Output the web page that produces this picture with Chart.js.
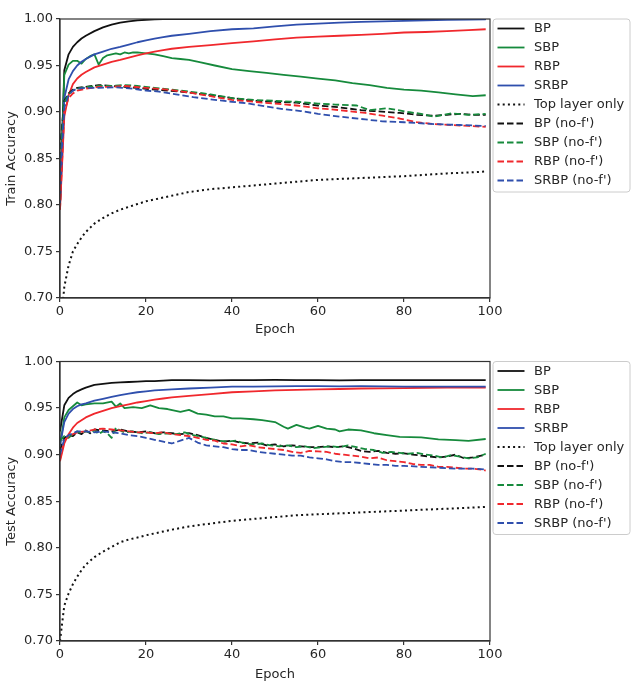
<!DOCTYPE html>
<html><head><meta charset="utf-8">
<script src="https://cdn.jsdelivr.net/npm/chart.js@4"></script>
<style>
html,body{margin:0;padding:0;background:#fff;}
#wrap{position:relative;width:636px;height:685px;}
canvas{position:absolute;left:0;}
</style></head><body>
<div id="wrap">
<canvas id="c1" width="636" height="340" style="top:0"></canvas>
<canvas id="c2" width="636" height="345" style="top:340px"></canvas>
</div>
<script>
// ---------- DATA ----------
const seriesLabels = ["BP","SBP","RBP","SRBP","Top layer only","BP (no-f')","SBP (no-f')","RBP (no-f')","SRBP (no-f')"];
const xTicks = [0,20,40,60,80,100];
const yTicks = [0.70,0.75,0.80,0.85,0.90,0.95,1.00];

// shared epochs for the smooth curves
const epA = [0,1,2,3,4,5,6,8,10,12,14,16,18,20,22,24,26,30,35,40,45,50,55,60,65,70,75,80,85,90,95,99];

// ----- Train -----
const trainBP   = [0.80,0.945,0.962,0.970,0.975,0.979,0.982,0.987,0.991,0.994,0.996,0.9975,0.9985,0.9992,0.9996,0.9998,1.0,1.0,1.0,1.0,1.0,1.0,1.0,1.0,1.0,1.0,1.0,1.0,1.0,1.0,1.0,1.0];
const trainRBP  = [0.795,0.895,0.918,0.930,0.936,0.940,0.943,0.948,0.951,0.954,0.956,0.9585,0.961,0.963,0.965,0.9665,0.968,0.970,0.972,0.974,0.976,0.978,0.980,0.981,0.982,0.983,0.984,0.9855,0.986,0.987,0.988,0.989];
const trainSRBP = [0.80,0.915,0.935,0.944,0.950,0.954,0.957,0.962,0.965,0.968,0.970,0.9725,0.975,0.977,0.979,0.9805,0.982,0.984,0.987,0.989,0.990,0.992,0.994,0.995,0.996,0.997,0.9975,0.998,0.9985,0.999,0.9993,0.9995];
const trainTop  = [0.66,0.712,0.735,0.750,0.758,0.765,0.771,0.780,0.786,0.791,0.795,0.798,0.801,0.804,0.806,0.808,0.810,0.814,0.817,0.819,0.821,0.823,0.825,0.827,0.828,0.829,0.830,0.831,0.8325,0.834,0.835,0.836];

const trainSBP_x = [0,1,2,3,4,5,6,7,8,9,10,11,12,13,14,15,16,17,18,20,22,24,26,28,30,33,36,40,44,48,52,56,60,64,68,72,76,80,84,88,92,96,99];
const trainSBP   = [0.80,0.94,0.951,0.955,0.955,0.952,0.957,0.960,0.962,0.951,0.958,0.961,0.962,0.963,0.962,0.964,0.963,0.964,0.964,0.963,0.962,0.960,0.958,0.957,0.956,0.953,0.950,0.946,0.944,0.942,0.940,0.938,0.936,0.934,0.931,0.929,0.926,0.924,0.923,0.921,0.919,0.917,0.918];

const trainBPnf_x = [0,1,2,3,4,6,9,12,15,20,25,30,35,40,45,50,55,60,65,70,73,76,79,83,87,90,93,96,99];
const trainBPnf   = [0.86,0.912,0.920,0.924,0.926,0.927,0.929,0.928,0.927,0.925,0.923,0.921,0.918,0.915,0.912,0.911,0.910,0.907,0.905,0.902,0.901,0.900,0.899,0.897,0.896,0.897,0.898,0.897,0.897];
const trainSBPnf_x = [0,1,2,3,4,6,9,12,15,18,22,26,30,35,40,45,50,55,60,64,69,72,76,81,84,87,91,95,99];
const trainSBPnf   = [0.85,0.91,0.919,0.923,0.925,0.927,0.928,0.928,0.929,0.928,0.926,0.924,0.922,0.919,0.915,0.913,0.912,0.911,0.909,0.908,0.907,0.902,0.904,0.900,0.898,0.895,0.8985,0.897,0.898];
const trainRBPnf_x = [0,1,2,3,4,6,9,12,15,20,25,30,35,40,45,50,55,60,65,71,75,79,83,87,91,95,99];
const trainRBPnf   = [0.795,0.900,0.915,0.920,0.923,0.925,0.927,0.927,0.928,0.926,0.924,0.921,0.917,0.913,0.911,0.909,0.907,0.904,0.902,0.899,0.896,0.893,0.889,0.887,0.886,0.885,0.884];
const trainSRBPnf_x = [0,1,2,3,4,6,9,13,17,20,23,27,31,36,40,44,48,52,56,60,65,71,75,80,87,93,99];
const trainSRBPnf   = [0.83,0.905,0.918,0.923,0.925,0.926,0.926,0.9265,0.925,0.923,0.922,0.919,0.916,0.913,0.911,0.909,0.906,0.903,0.901,0.898,0.895,0.892,0.890,0.889,0.887,0.886,0.885];

// ----- Test -----
const testBP   = [0.925,0.953,0.961,0.965,0.968,0.970,0.972,0.975,0.976,0.977,0.9775,0.978,0.9785,0.979,0.979,0.9795,0.980,0.980,0.9798,0.980,0.980,0.9802,0.980,0.980,0.9798,0.980,0.980,0.980,0.980,0.980,0.980,0.980];
const testRBP  = [0.893,0.912,0.922,0.929,0.934,0.937,0.940,0.944,0.947,0.950,0.952,0.954,0.956,0.9575,0.959,0.9603,0.9615,0.963,0.965,0.967,0.968,0.969,0.9695,0.970,0.9705,0.971,0.9712,0.9715,0.9718,0.972,0.972,0.972];
const testSRBP = [0.91,0.935,0.944,0.949,0.952,0.954,0.955,0.958,0.960,0.962,0.964,0.9655,0.967,0.968,0.969,0.9695,0.970,0.971,0.972,0.973,0.973,0.9733,0.9735,0.9735,0.9733,0.9735,0.9732,0.973,0.973,0.973,0.973,0.973];
const testTop  = [0.70,0.738,0.751,0.761,0.769,0.776,0.782,0.790,0.796,0.801,0.806,0.809,0.811,0.8135,0.8155,0.8175,0.8195,0.823,0.826,0.829,0.831,0.833,0.835,0.836,0.837,0.838,0.839,0.840,0.841,0.842,0.843,0.844];

const testSBP_x = [0,1,2,3,4,5,6,8,10,12,13,14,15,17,19,21,23,25,28,30,32,34,36,38,40,42,45,47,50,52,53,55,57,58,60,62,64,65,67,70,73,76,79,84,88,92,95,99];
const testSBP   = [0.91,0.940,0.948,0.952,0.956,0.953,0.954,0.955,0.955,0.957,0.9515,0.955,0.950,0.951,0.950,0.953,0.950,0.949,0.946,0.948,0.944,0.943,0.941,0.941,0.939,0.939,0.938,0.937,0.935,0.930,0.928,0.932,0.929,0.928,0.931,0.928,0.927,0.925,0.927,0.926,0.923,0.921,0.919,0.9185,0.9165,0.9157,0.9147,0.9168];

const testBPnf_x = [0,1,2,3,4,5,6,7,8,10,12,14,16,18,20,22,24,26,28,30,32,34,36,38,40,42,44,46,48,50,52,54,56,58,60,62,64,66,68,70,72,74,76,78,80,82,84,86,88,90,92,94,96,98,99];
const testBPnf   = [0.905,0.918,0.921,0.920,0.924,0.922,0.926,0.923,0.927,0.926,0.925,0.927,0.925,0.924,0.925,0.923,0.924,0.923,0.922,0.923,0.921,0.918,0.916,0.914,0.915,0.913,0.912,0.913,0.910,0.911,0.909,0.910,0.909,0.908,0.908,0.909,0.908,0.909,0.907,0.904,0.903,0.904,0.902,0.901,0.9015,0.900,0.899,0.898,0.897,0.898,0.900,0.896,0.897,0.899,0.900];
const testSBPnf_x = [0,1,2,3,4,5,6,7,8,9,10,11,12,13,14,15,17,19,21,23,25,27,29,31,33,35,37,39,41,43,45,47,49,51,53,55,57,59,61,63,65,67,69,71,73,75,77,79,81,83,85,87,89,91,93,95,97,99];
const testSBPnf   = [0.915,0.920,0.918,0.922,0.925,0.923,0.925,0.924,0.926,0.922,0.925,0.923,0.918,0.929,0.926,0.924,0.925,0.923,0.924,0.922,0.923,0.922,0.924,0.921,0.919,0.917,0.915,0.914,0.915,0.912,0.911,0.912,0.910,0.909,0.910,0.908,0.909,0.907,0.908,0.909,0.908,0.910,0.908,0.906,0.905,0.902,0.903,0.902,0.901,0.902,0.900,0.899,0.897,0.8995,0.898,0.896,0.897,0.901];
const testRBPnf_x = [0,1,2,3,4,6,8,10,12,14,16,18,20,22,24,26,28,30,32,34,36,38,40,42,44,46,48,50,52,54,56,58,60,62,64,66,68,70,72,74,76,78,80,82,84,86,88,90,92,94,96,98,99];
const testRBPnf   = [0.895,0.915,0.920,0.922,0.924,0.925,0.927,0.928,0.927,0.926,0.925,0.924,0.924,0.923,0.924,0.922,0.921,0.920,0.918,0.916,0.915,0.912,0.911,0.909,0.910,0.908,0.907,0.906,0.905,0.903,0.902,0.904,0.9035,0.903,0.901,0.900,0.899,0.898,0.896,0.897,0.894,0.893,0.892,0.890,0.889,0.889,0.887,0.887,0.886,0.885,0.885,0.884,0.883];
const testSRBPnf_x = [0,1,2,3,4,6,8,10,12,14,16,18,20,22,24,26,28,30,32,34,36,38,40,42,44,46,48,50,52,54,56,58,60,62,64,66,68,70,72,74,76,78,80,84,88,92,96,99];
const testSRBPnf   = [0.90,0.917,0.921,0.923,0.925,0.925,0.924,0.925,0.924,0.923,0.921,0.920,0.918,0.916,0.914,0.912,0.915,0.918,0.913,0.910,0.909,0.908,0.906,0.905,0.905,0.903,0.902,0.901,0.900,0.899,0.899,0.897,0.896,0.895,0.893,0.892,0.892,0.891,0.890,0.889,0.889,0.888,0.888,0.887,0.886,0.885,0.885,0.884];

// ---------- STYLES ----------
const colors = ['#111111','#168a3c','#f0282d','#2f4fad','#111111','#111111','#168a3c','#f0282d','#2f4fad'];
const dashes = [[],[],[],[],[2,3.2],[6.5,3],[6.5,3],[6.5,3],[6.5,3]];
const FONT = {family:'DejaVu Sans', size:13};
const TXT = '#262626';

function pts(xs, ys){ return xs.map((x,i)=>({x:x, y:ys[i]})); }

function buildDatasets(seriesXY){
  return seriesXY.map((d,i)=>({
    label: seriesLabels[i],
    data: pts(d[0], d[1]),
    borderColor: colors[i],
    borderDash: dashes[i],
    borderWidth: i===4 ? 2 : 1.8,
    borderCapStyle: 'butt',
    borderJoinStyle: 'round',
    pointRadius: 0,
    tension: 0,
    fill: false,
    order: seriesXY.length - i
  }));
}

const framePlugin = {
  id:'frame',
  afterDraw(chart){
    const {ctx, chartArea:a} = chart;
    ctx.save();
    ctx.strokeStyle = '#333333'; ctx.lineWidth = 1.2;
    ctx.strokeRect(a.left, a.top, a.right-a.left, a.bottom-a.top);
    // legend
    const bx = a.right + 2.5, by = a.top - 0.5, bw = 137, bh = 173;
    ctx.fillStyle = 'rgba(255,255,255,0.85)';
    ctx.strokeStyle = '#cccccc'; ctx.lineWidth = 1;
    ctx.beginPath();
    if (ctx.roundRect) ctx.roundRect(bx+0.5, by+0.5, bw, bh, 3); else ctx.rect(bx+0.5, by+0.5, bw, bh);
    ctx.fill(); ctx.stroke();
    ctx.font = '13px "DejaVu Sans"';
    ctx.textBaseline = 'middle';
    chart.data.datasets.forEach((ds,i)=>{
      const y = by + 10 + 19*i;
      ctx.beginPath();
      ctx.setLineDash(ds.borderDash);
      ctx.strokeStyle = ds.borderColor;
      ctx.lineWidth = ds.borderWidth;
      ctx.lineCap = 'butt';
      ctx.moveTo(bx+5, y); ctx.lineTo(bx+32, y);
      ctx.stroke();
      ctx.setLineDash([]);
      ctx.fillStyle = TXT;
      ctx.fillText(ds.label, bx+41.5, y+0.5);
    });
    ctx.restore();
  }
};

function makeChart(id, yTitle, seriesXY, padTop, xAxisH){
  return new Chart(document.getElementById(id), {
    type:'line',
    data:{ datasets: buildDatasets(seriesXY) },
    options:{
      responsive:false, animation:false, events:[],
      layout:{ padding:{ top:padTop, right:146, left:0, bottom:0 } },
      plugins:{ legend:{display:false}, tooltip:{enabled:false} },
      scales:{
        x:{
          type:'linear', min:xTicks[0], max:xTicks[xTicks.length-1],
          afterBuildTicks: s => { s.ticks = xTicks.map(v=>({value:v})); },
          ticks:{ color:TXT, font:FONT, padding:2, maxRotation:0, callback:v=>String(v) },
          grid:{ drawOnChartArea:false, drawTicks:true, tickLength:4, color:'#333333', lineWidth:1.2 },
          border:{ display:true, color:'#333333', width:1.2 },
          title:{ display:true, text:'Epoch', color:TXT, font:FONT, padding:{top:0,bottom:3} },
          afterFit: s => { s.height = xAxisH; }
        },
        y:{
          type:'linear', min:yTicks[0], max:yTicks[yTicks.length-1],
          afterBuildTicks: s => { s.ticks = yTicks.map(v=>({value:v})); },
          ticks:{ color:TXT, font:FONT, padding:3, callback:v=>Number(v).toFixed(2) },
          grid:{ drawOnChartArea:false, drawTicks:true, tickLength:4, color:'#333333', lineWidth:1.2 },
          border:{ display:true, color:'#333333', width:1.2 },
          title:{ display:true, text:yTitle, color:TXT, font:FONT, padding:{top:4,bottom:0} },
          afterFit: s => { s.width = 60; }
        }
      }
    },
    plugins:[framePlugin]
  });
}

makeChart('c1', 'Train Accuracy', [
  [epA, trainBP], [trainSBP_x, trainSBP], [epA, trainRBP], [epA, trainSRBP], [epA, trainTop],
  [trainBPnf_x, trainBPnf], [trainSBPnf_x, trainSBPnf], [trainRBPnf_x, trainRBPnf], [trainSRBPnf_x, trainSRBPnf]
], 19, 42);

makeChart('c2', 'Test Accuracy', [
  [epA, testBP], [testSBP_x, testSBP], [epA, testRBP], [epA, testSRBP], [epA, testTop],
  [testBPnf_x, testBPnf], [testSBPnf_x, testSBPnf], [testRBPnf_x, testRBPnf], [testSRBPnf_x, testSRBPnf]
], 21.5, 44);
</script>
</body></html>
